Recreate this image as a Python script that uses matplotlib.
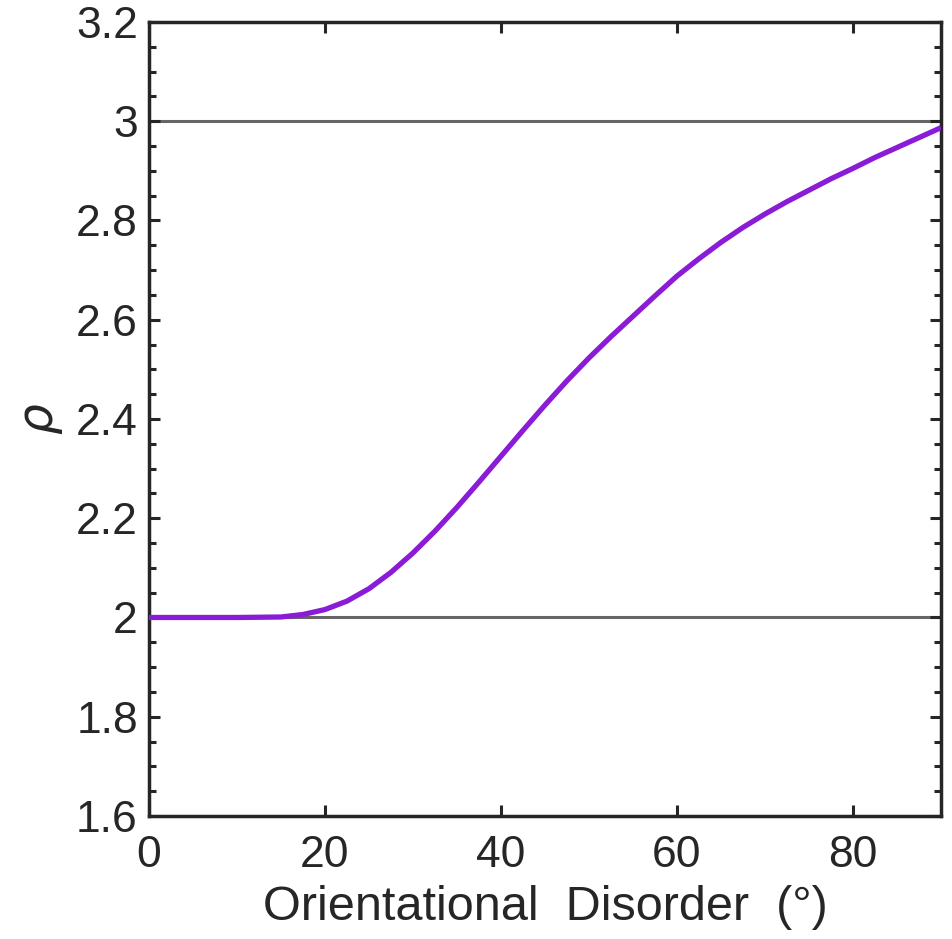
import matplotlib
matplotlib.use('Agg')
import matplotlib.pyplot as plt
from matplotlib.ticker import MultipleLocator
import numpy as np

# rho versus orientational disorder (degrees)
disorder = [0, 5, 10, 15, 17.5, 20, 22.5, 25, 27.5, 30, 32.5, 35, 37.5, 40,
            42.5, 45, 47.5, 50, 52.5, 55, 57.5, 60, 62.5, 65, 67.5, 70, 72.5,
            75, 77.5, 80, 82.5, 85, 87.5, 90]
rho = [2.000, 2.000, 2.000, 2.001, 2.006, 2.016, 2.033, 2.058, 2.091, 2.130,
       2.174, 2.222, 2.273, 2.325, 2.377, 2.428, 2.477, 2.523, 2.566, 2.607,
       2.648, 2.688, 2.723, 2.756, 2.786, 2.813, 2.838, 2.861, 2.884, 2.905,
       2.927, 2.947, 2.967, 2.987]
limits = [2, 3]

xticks = [0, 20, 40, 60, 80]
yticks = [1.6, 1.8, 2, 2.2, 2.4, 2.6, 2.8, 3, 3.2]
yticklabels = ['1.6', '1.8', '2', '2.2', '2.4', '2.6', '2.8', '3', '3.2']

plt.rcParams['font.family'] = ['Liberation Sans', 'DejaVu Sans']
dark = '#262626'

fig = plt.figure(figsize=(9.53, 9.39), dpi=100)
ax = fig.add_axes([0.1563, 0.131, 0.8311, 0.8456])

for lim in limits:
    ax.axhline(lim, color='#666666', lw=2.2, zorder=1)
ax.plot(disorder, rho, color='#8A1BD6', lw=3.8, solid_capstyle='butt',
        solid_joinstyle='round', zorder=3)

ax.set_xlim(0, 90)
ax.set_ylim(1.6, 3.2)
ax.set_xticks(xticks)
ax.set_yticks(yticks)
ax.set_yticklabels(yticklabels)
ax.yaxis.set_minor_locator(MultipleLocator(0.05))

ax.tick_params(which='both', direction='in', top=True, right=True,
               colors=dark, width=2.2)
ax.tick_params(which='major', length=8, labelsize=32)
ax.tick_params(axis='x', which='major', pad=14)
ax.tick_params(axis='y', which='major', pad=8)
ax.tick_params(which='minor', length=5)
for s in ax.spines.values():
    s.set_linewidth(2.5)
    s.set_color(dark)

ax.set_xlabel('Orientational  Disorder  (°)', fontsize=35, color=dark, labelpad=6)
ax.set_ylabel(r'$\rho$', fontsize=35, color=dark, labelpad=8)

fig.savefig('out.png', dpi=100)
